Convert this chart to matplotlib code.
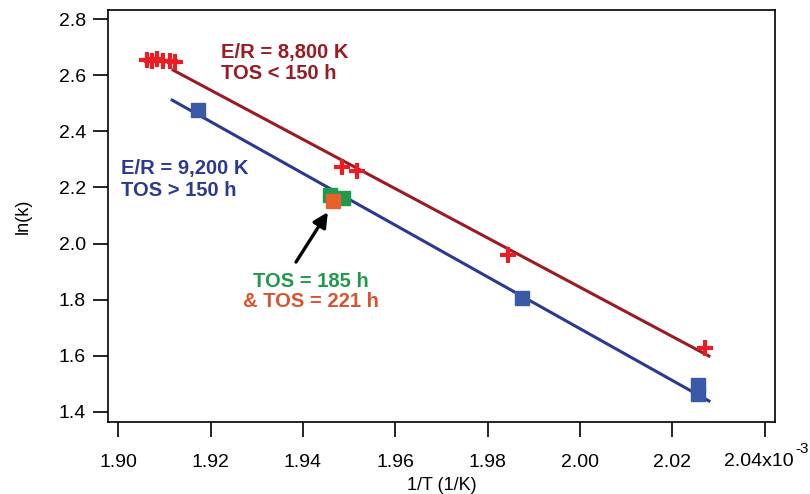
import matplotlib
matplotlib.use("Agg")
import matplotlib.pyplot as plt

plt.rcParams["font.family"] = ["Liberation Sans", "DejaVu Sans"]

# 1/T in units of 1e-3 1/K
red_x = [1.9063, 1.9074, 1.9084, 1.9097, 1.9113, 1.9123, 1.9485, 1.9517, 1.9844, 2.0271]
red_y = [2.655, 2.650, 2.658, 2.650, 2.652, 2.646, 2.273, 2.258, 1.959, 1.628]

blue_x = [1.9173, 1.9874, 2.0255, 2.0255]
blue_y = [2.476, 1.806, 1.495, 1.465]

green_x = [1.9459, 1.9487]
green_y = [2.173, 2.163]

orange_x = [1.9466]
orange_y = [2.150]

red_fit_x = [1.9119, 2.0279]
red_fit_y = [2.618, 1.599]
blue_fit_x = [1.9117, 2.0279]
blue_fit_y = [2.511, 1.439]

xticks = [1.90, 1.92, 1.94, 1.96, 1.98, 2.00, 2.02, 2.04]
xtick_labels = ["1.90", "1.92", "1.94", "1.96", "1.98", "2.00", "2.02", ""]
yticks = [1.4, 1.6, 1.8, 2.0, 2.2, 2.4, 2.6, 2.8]

RED_DARK = "#9b1b22"
RED = "#ec1c24"
BLUE = "#2b3990"
BLUE_M = "#3a5aa8"
GREEN = "#1e9a4a"
ORANGE = "#e8602c"

fig = plt.figure(figsize=(8.1, 4.94), dpi=100)
ax = fig.add_axes([0.1333, 0.1457, 0.8235, 0.834])

ax.plot(red_fit_x, red_fit_y, color=RED_DARK, lw=2.2, zorder=2)
ax.plot(blue_fit_x, blue_fit_y, color=BLUE, lw=2.2, zorder=2)

ax.plot(red_x, red_y, ls="none", marker="+", ms=11, mew=3, color=RED, zorder=3)
ax.plot(blue_x, blue_y, ls="none", marker="s", ms=10, color=BLUE_M, zorder=3)
ax.plot(green_x, green_y, ls="none", marker="s", ms=10, color=GREEN, zorder=4)
ax.plot(orange_x, orange_y, ls="none", marker="s", ms=10, color=ORANGE, zorder=5)

ax.annotate("", xy=(1.9454, 2.112), xytext=(1.9385, 1.934),
            arrowprops=dict(arrowstyle="-|>", color="black", lw=2.4,
                            mutation_scale=22, shrinkA=0, shrinkB=0))

ax.text(1.9222, 2.642, "E/R = 8,800 K\nTOS < 150 h", color=RED_DARK,
        fontsize=14.5, fontweight="bold", linespacing=1.15, va="center", ha="left")
ax.text(1.9007, 2.228, "E/R = 9,200 K\nTOS > 150 h", color=BLUE,
        fontsize=14.5, fontweight="bold", linespacing=1.15, va="center", ha="left")
ax.text(1.9418, 1.866, "TOS = 185 h", color=GREEN,
        fontsize=14.5, fontweight="bold", va="center", ha="center")
ax.text(1.9418, 1.792, "& TOS = 221 h", color="#d9532b",
        fontsize=14.5, fontweight="bold", va="center", ha="center")

ax.set_xlim(1.8978, 2.0422)
ax.set_ylim(1.364, 2.832)
ax.set_xticks(xticks)
ax.set_xticklabels(xtick_labels)
ax.set_yticks(yticks)
ax.set_yticklabels(["%.1f" % v for v in yticks])
ax.tick_params(direction="out", length=11, width=1.2, labelsize=14)
ax.tick_params(axis="x", pad=12)
ax.tick_params(axis="y", pad=5)

# last x tick label with the exponent, centred on the tick as a whole
tr = ax.get_xaxis_transform()
ax.text(2.0388, -0.097, "2.04x10", transform=tr, fontsize=14,
        ha="center", va="center", clip_on=False)
ax.text(2.0481, -0.066, "-3", transform=tr, fontsize=11,
        ha="center", va="center", clip_on=False)

for s in ax.spines.values():
    s.set_linewidth(1.2)

ax.set_xlabel("1/T (1/K)", fontsize=13, labelpad=4)
ax.set_ylabel("ln(k)", fontsize=13, labelpad=19)

fig.savefig("out.png", dpi=100)
